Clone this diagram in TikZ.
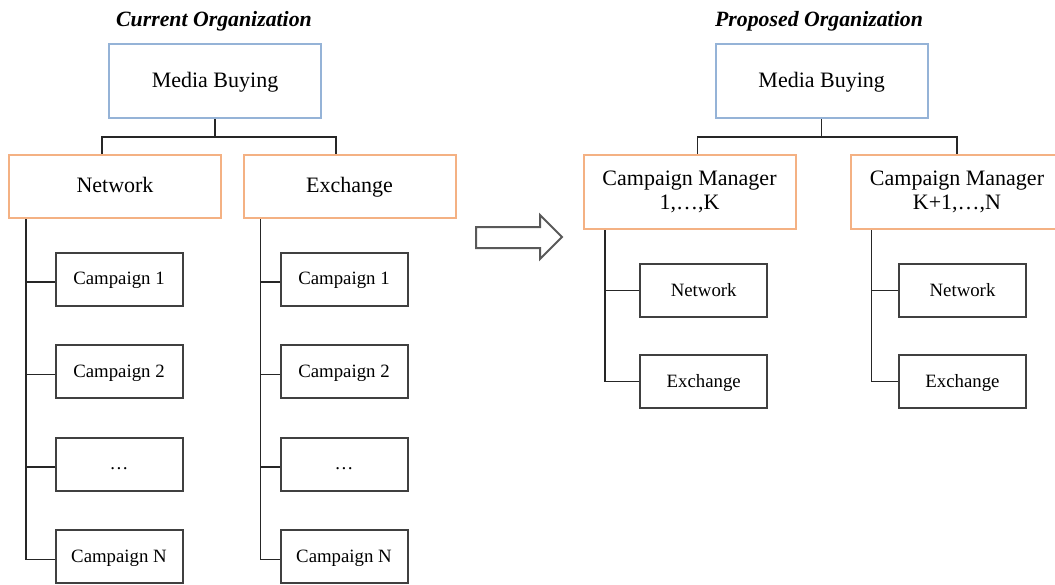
\documentclass[tikz,border=0pt]{standalone}
\usepackage{fontspec}
\setmainfont{Liberation Serif}
\usetikzlibrary{positioning}

\definecolor{topblue}{RGB}{149,179,215}
\definecolor{unitorange}{RGB}{244,177,131}
\definecolor{boxgray}{RGB}{64,64,64}
\definecolor{arrowgray}{RGB}{89,89,89}

\begin{document}
\begin{tikzpicture}[x=1pt,y=-1pt,node distance=37.5pt,
    conn/.style={draw=black!85,line width=1.5pt},
    head node/.style={draw=topblue,line width=2pt,minimum width=212pt,minimum height=74pt,
      font=\fontsize{22}{24}\selectfont,text height=15.5pt,text depth=3pt},
    unit node/.style={draw=unitorange,line width=2pt,minimum width=212pt,minimum height=63pt,
      font=\fontsize{22}{24}\selectfont,text height=15.5pt,text depth=3pt},
    mgr node/.style={draw=unitorange,line width=2pt,minimum width=212pt,minimum height=74pt,
      font=\fontsize{22}{24}\selectfont,align=center},
    leaf node/.style={draw=boxgray,line width=2pt,minimum width=127pt,minimum height=53pt,
      font=\fontsize{18.8}{22}\selectfont,text height=13.5pt,text depth=2pt},
    title/.style={anchor=base,font=\fontsize{21.8}{24}\selectfont\bfseries\itshape}]
    \useasboundingbox (0,0) rectangle (1055,584);

    \node[title] (t1) at (214,26) {Current Organization};
    \node[title] (t2) at (819,26) {Proposed Organization};

    \node[head node] (mb1) at (215,81) {Media Buying};
    \node[unit node] (net) at (115,186.5) {Network};
    \node[unit node] (exc) at (349.5,186.5) {Exchange};

    \node[leaf node] (n1) at (119,279) {Campaign 1};
    \node[leaf node] (n2) [below=of n1] {Campaign 2};
    \node[leaf node] (n3) [below=of n2] {\dots};
    \node[leaf node] (n4) [below=of n3] {Campaign N};
    \node[leaf node] (e1) at (344,279) {Campaign 1};
    \node[leaf node] (e2) [below=of e1] {Campaign 2};
    \node[leaf node] (e3) [below=of e2] {\dots};
    \node[leaf node] (e4) [below=of e3] {Campaign N};

    \draw[conn] (mb1.south) -- ++(0,18) -| ([xshift=-13pt]net.north);
    \draw[conn] (mb1.south) -- ++(0,18) -| ([xshift=-13.5pt]exc.north);
    \coordinate (nt) at ([xshift=18pt]net.south west);
    \coordinate (et) at ([xshift=18pt]exc.south west);
    \draw[conn] (nt) |- ([yshift=-3pt]n4.west);
    \draw[conn] (et) |- ([yshift=-3pt]e4.west);
    \foreach \i in {1,2,3} {
      \coordinate (np) at ([yshift=-3pt]n\i.west);
      \coordinate (ep) at ([yshift=-3pt]e\i.west);
      \draw[conn] (nt |- np) -- (np);
      \draw[conn] (et |- ep) -- (ep);
    }

    \draw[draw=arrowgray,line width=2pt,line join=miter]
      (476,227) -- (540,227) -- (540,215) -- (562,237) -- (540,259) -- (540,248) -- (476,248) -- cycle;

    \node[head node] (mb2) at (821.7,81) {Media Buying};
    \node[mgr node] (m1) at (689.5,192) {Campaign Manager\\1,\dots,K};
    \node[mgr node] (m2) at (957,192) {Campaign Manager\\K+1,\dots,N};

    \node[leaf node] (a1) at (703.7,290.5) {Network};
    \node[leaf node] (a2) [below=36pt of a1] {Exchange};
    \node[leaf node] (b1) at (962.5,290.5) {Network};
    \node[leaf node] (b2) [below=36pt of b1] {Exchange};

    \draw[conn] (mb2.south) -- ++(0,18) -| ([xshift=8pt]m1.north);
    \draw[conn] (mb2.south) -- ++(0,18) -| (m2.north);
    \coordinate (at) at ([xshift=22.5pt]m1.south west);
    \coordinate (bt) at ([xshift=21.5pt]m2.south west);
    \draw[conn] (at) |- (a2.west);
    \draw[conn] (bt) |- (b2.west);
    \draw[conn] (at |- a1.west) -- (a1.west);
    \draw[conn] (bt |- b1.west) -- (b1.west);
\end{tikzpicture}
\end{document}
